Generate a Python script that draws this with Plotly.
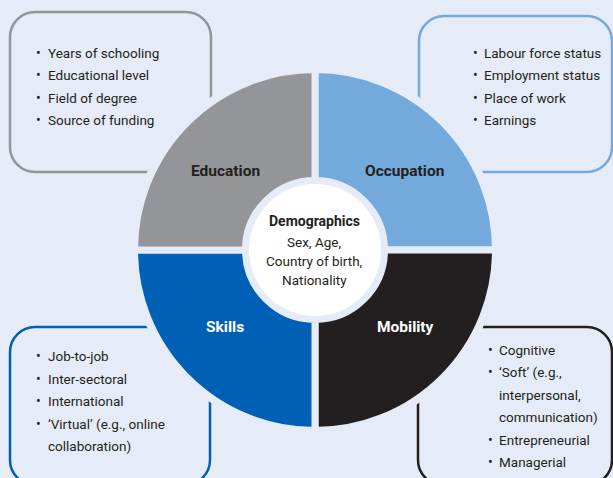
import plotly.graph_objects as go

# ---- data ----
categories = ["Occupation", "Mobility", "Skills", "Education"]
shares = [1, 1, 1, 1]
centre_title = "Demographics"
centre_lines = ["Sex, Age,", "Country of birth,", "Nationality"]
education_items = ["Years of schooling", "Educational level", "Field of degree", "Source of funding"]
occupation_items = ["Labour force status", "Employment status", "Place of work", "Earnings"]
mobility_items = ["Job-to-job", "Inter-sectoral", "International", "‘Virtual’ (e.g., online\ncollaboration)"]
skills_items = ["Cognitive", "‘Soft’ (e.g.,\ninterpersonal,\ncommunication)", "Entrepreneurial", "Managerial"]

# ---- styling ----
W, H = 613, 478
BG = "#e6ecf7"
TXT = "#231f20"
GRAY = "#939598"
LBLUE = "#74a9dc"
BLUE = "#0060b6"
BLACK = "#231f20"
slice_colors = [LBLUE, BLACK, BLUE, GRAY]
FONT = "Roboto, Liberation Sans, Arial, sans-serif"

def X(x):
    return x / W

def Y(y):
    return 1 - y / H

def rrect(x0, y0, x1, y1, r):
    k = 0.5523 * r
    pts = [
        ("M", [(x0 + r, y0)]),
        ("L", [(x1 - r, y0)]),
        ("C", [(x1 - r + k, y0), (x1, y0 + r - k), (x1, y0 + r)]),
        ("L", [(x1, y1 - r)]),
        ("C", [(x1, y1 - r + k), (x1 - r + k, y1), (x1 - r, y1)]),
        ("L", [(x0 + r, y1)]),
        ("C", [(x0 + r - k, y1), (x0, y1 - r + k), (x0, y1 - r)]),
        ("L", [(x0, y0 + r)]),
        ("C", [(x0, y0 + r - k), (x0 + r - k, y0), (x0 + r, y0)]),
    ]
    s = ""
    for cmd, ps in pts:
        s += cmd + " " + " ".join(f"{X(a):.5f},{Y(b):.5f}" for a, b in ps) + " "
    return s + "Z"

cx, cy = 315, 250
R = 177
gap = 7
Rp = R + gap / 2

shapes = []
boxes = [
    (10, 12, 211, 172, 25, GRAY),
    (419, 16, 612, 172, 25, LBLUE),
    (10, 327, 210, 485, 25, BLUE),
    (418, 327, 612, 485, 25, BLACK),
]
for x0, y0, x1, y1, r, c in boxes:
    shapes.append(dict(type="path", path=rrect(x0, y0, x1, y1, r), xref="paper", yref="paper",
                       line=dict(color=c, width=2.5), fillcolor="rgba(0,0,0,0)", layer="below"))
# background ring masking box borders around the wheel
Rm = 185
shapes.append(dict(type="circle", xref="paper", yref="paper",
                   x0=X(cx - Rm), x1=X(cx + Rm), y0=Y(cy + Rm), y1=Y(cy - Rm),
                   fillcolor=BG, line=dict(width=0), layer="below"))
# white centre disc
Rw = 66
shapes.append(dict(type="circle", xref="paper", yref="paper",
                   x0=X(cx - Rw), x1=X(cx + Rw), y0=Y(cy + Rw), y1=Y(cy - Rw),
                   fillcolor="white", line=dict(width=0), layer="above"))

fig = go.Figure()
fig.add_trace(go.Pie(
    labels=categories, values=shares, sort=False, direction="clockwise", rotation=0,
    hole=(73 - gap / 2) / Rp,
    marker=dict(colors=slice_colors, line=dict(color=BG, width=gap)),
    textinfo="none", hoverinfo="none", showlegend=False,
    domain=dict(x=[X(cx - Rp), X(cx + Rp)], y=[Y(cy + Rp), Y(cy - Rp)]),
))

ann = []
# quadrant labels
label_pos = {"Occupation": (404, 171, TXT), "Mobility": (405, 327, "white"),
             "Skills": (225, 327, "white"), "Education": (225, 171, TXT)}
for name in categories:
    lx, ly, col = label_pos[name]
    ann.append(dict(x=X(lx), y=Y(ly), text=f"<b>{name}</b>", xref="paper", yref="paper",
                    showarrow=False, xanchor="center", yanchor="middle",
                    font=dict(family=FONT, size=15.5, color=col)))
# centre text
ann.append(dict(x=X(314), y=Y(221), text=f"<b>{centre_title}</b>", xref="paper", yref="paper",
                showarrow=False, xanchor="center", yanchor="middle",
                font=dict(family=FONT, size=14, color=TXT)))
for i, t in enumerate(centre_lines):
    ann.append(dict(x=X(314), y=Y(242 + 19 * i), text=t, xref="paper", yref="paper",
                    showarrow=False, xanchor="center", yanchor="middle",
                    font=dict(family=FONT, size=13.5, color=TXT)))

def add_list(items, bx, tx, y0, step):
    y = y0
    for it in items:
        parts = it.split("\n")
        for j, p in enumerate(parts):
            if j == 0:
                ann.append(dict(x=X(bx), y=Y(y), text="•", xref="paper", yref="paper",
                                showarrow=False, xanchor="center", yanchor="middle",
                                font=dict(family=FONT, size=14, color=TXT)))
            ann.append(dict(x=X(tx), y=Y(y), text=p, xref="paper", yref="paper",
                            showarrow=False, xanchor="left", yanchor="middle",
                            font=dict(family=FONT, size=13.5, color=TXT)))
            y += step

add_list(education_items, 38, 46, 53, 22.3)
add_list(occupation_items, 475, 482, 53, 22.3)
add_list(mobility_items, 38, 46, 356, 22.5)
add_list(skills_items, 490, 497, 350, 22.4)

fig.update_layout(
    width=W, height=H, margin=dict(l=0, r=0, t=0, b=0),
    paper_bgcolor=BG, plot_bgcolor=BG,
    shapes=shapes, annotations=ann, showlegend=False,
)
fig.write_html("out.html", config={"displayModeBar": False},
               post_script="document.body.style.margin='0';document.body.style.overflow='hidden';")
